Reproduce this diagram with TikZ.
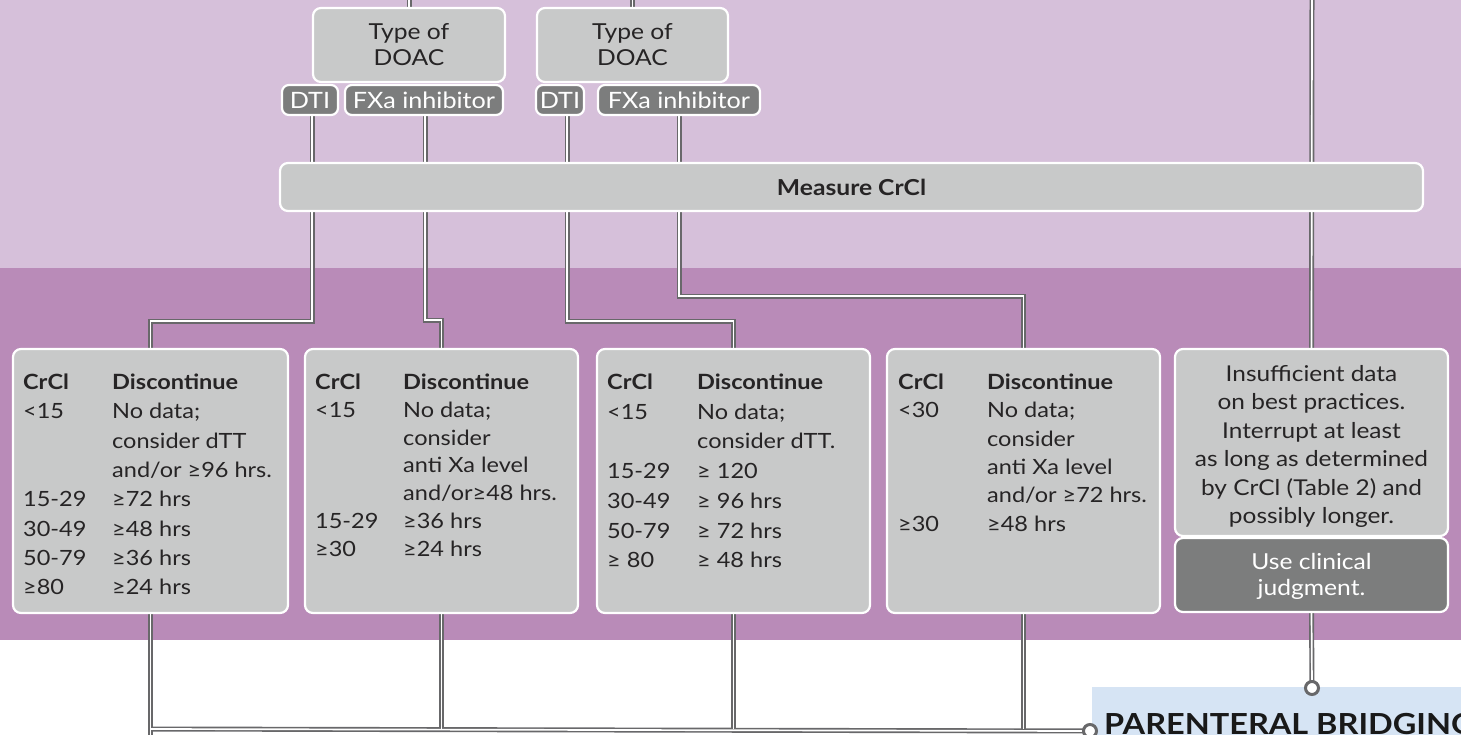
\documentclass[tikz,border=0pt]{standalone}
\usepackage{fontspec}
\setmainfont{Lato}[FakeStretch=1.12]
\usepackage{array}
\usetikzlibrary{calc}
\definecolor{bandA}{HTML}{D6C0DA}
\definecolor{bandB}{HTML}{B98BB8}
\definecolor{boxgray}{HTML}{C8C9C9}
\definecolor{pillgray}{HTML}{7C7D7D}
\definecolor{linegray}{HTML}{68686A}
\definecolor{bluebox}{HTML}{D6E4F4}
\definecolor{ink}{HTML}{262425}
\pgfdeclarelayer{bands}
\pgfdeclarelayer{lines}
\pgfsetlayers{bands,lines,main}
\newcommand\drawconns[1]{%
  \draw[#1] (top1) -- (t1.north);
  \draw[#1] (top2) -- (t2.north);
  \draw[#1] (top3) -- (b5.north);
  \draw[#1] ($(p1.south)+(2,0)$) |- (j1) -- (b1.north);
  \draw[#1] ($(p2.south)+(1,0)$) |- (j2) -- (b2.north);
  \draw[#1] ($(p3.south)+(7,0)$) |- (j3) -- (b3.north);
  \draw[#1] (p4.south) |- (j4) -- (b4.north);
  \draw[#1] (b1.south) -- (bot1);
  \draw[#1] (h1) -- (c1.center);
  \draw[#1] (b2.south) -- (h2);
  \draw[#1] (b3.south) -- (h3);
  \draw[#1] (b4.south) -- (h4);
  \draw[#1] (b6.south) -- (c2.center);
}
\begin{document}
\begin{tikzpicture}[x=1pt,y=-1pt,
  outerline/.style={draw=linegray, line width=5pt},
  innerline/.style={draw=white, line width=1.7pt},
  box/.style={draw=white, line width=2.2pt, fill=boxgray, rounded corners=8pt, inner sep=0pt},
  darkbox/.style={draw=white, line width=2.2pt, fill=pillgray, rounded corners=8pt, inner sep=0pt},
  pill/.style={darkbox, rounded corners=7pt, text=white, font=\fontsize{22.5}{24}\selectfont, minimum height=30pt},
  tab/.style={anchor=base west, inner sep=0pt, text=ink},
  ring/.style={circle, inner sep=0pt, minimum size=13pt, draw=linegray, line width=3pt, fill=white}
]
\useasboundingbox (0,0) rectangle (1461,734);
\begin{pgfonlayer}{bands}
  \fill[bandA] (0,0) rectangle (1461,268);
  \fill[bandB] (0,268) rectangle (1461,640);
  \fill[white] (0,640) rectangle (1461,734);
  \node[fill=bluebox, anchor=north west, minimum width=400pt, minimum height=60pt, inner sep=0pt] (pbbox) at (1092,687) {};
\end{pgfonlayer}

% coordinates for free ends and bends
\coordinate (top1) at (409,-3);
\coordinate (top2) at (632.5,-3);
\coordinate (top3) at (1312,-3);
\coordinate (j1) at (150.5,321);
\coordinate (j2) at (441.5,320);
\coordinate (j3) at (733.5,321);
\coordinate (j4) at (1023.5,296);
\coordinate (bot1) at (150.5,740);
\coordinate (h1) at (150.5,729);
\coordinate (h2) at (441.5,729);
\coordinate (h3) at (733.5,729);
\coordinate (h4) at (1023.5,729);

% Type of DOAC
\node[box, minimum width=192pt, minimum height=74pt, align=center, text=ink,
      font=\fontsize{22}{26}\selectfont] (t1) at (409,45) {Type of\\DOAC};
\node[box, minimum width=191pt, minimum height=74pt, align=center, text=ink,
      font=\fontsize{22}{26}\selectfont] (t2) at (632.5,45) {Type of\\DOAC};
\node[pill, minimum width=56pt] (p1) at (310,100) {DTI};
\node[pill, minimum width=158pt] (p2) at (424,100) {FXa inhibitor};
\node[pill, minimum width=48pt] (p3) at (560,100) {DTI};
\node[pill, minimum width=162pt] (p4) at (679,100) {FXa inhibitor};

% Measure CrCl
\node[box, minimum width=1143pt, minimum height=48pt, text=ink,
      font=\fontsize{22}{26}\selectfont\bfseries] (m) at (851.5,187) {Measure CrCl};

% CrCl boxes
\node[box, minimum width=275pt, minimum height=264pt] (b1) at (150.5,481) {};
\node[box, minimum width=273pt, minimum height=264pt] (b2) at (441.5,481) {};
\node[box, minimum width=273pt, minimum height=264pt] (b3) at (733.5,481) {};
\node[box, minimum width=273pt, minimum height=264pt] (b4) at (1023.5,481) {};
\node[box, minimum width=273pt, minimum height=187pt] (b5) at (1311.5,442.5) {};
\node[darkbox, minimum width=273pt, minimum height=74pt] (b6) at (1311.5,575) {};

\node[tab, font=\fontsize{21}{29.3}\selectfont] (b1t) at (23,389.5) {%
\begin{tabular}[t]{@{}p{89pt}@{}l@{}}
\textbf{CrCl} & \textbf{Discontinue}\\
<15 & No data;\\
 & consider dTT\\
 & and/or ≥96 hrs.\\
15-29 & ≥72 hrs\\
30-49 & ≥48 hrs\\
50-79 & ≥36 hrs\\
≥80 & ≥24 hrs
\end{tabular}};

\node[tab, font=\fontsize{21}{27.8}\selectfont] (b2t) at (315,389.5) {%
\begin{tabular}[t]{@{}p{88pt}@{}l@{}}
\textbf{CrCl} & \textbf{Discontinue}\\
<15 & No data;\\
 & consider\\
 & anti Xa level\\
 & and/or≥48 hrs.\\
15-29 & ≥36 hrs\\
≥30 & ≥24 hrs
\end{tabular}};

\node[tab, font=\fontsize{21}{29.7}\selectfont] (b3t) at (607,389.5) {%
\begin{tabular}[t]{@{}p{90pt}@{}l@{}}
\textbf{CrCl} & \textbf{Discontinue}\\
<15 & No data;\\
 & consider dTT.\\
15-29 & ≥ 120\\
30-49 & ≥ 96 hrs\\
50-79 & ≥ 72 hrs\\
≥ 80 & ≥ 48 hrs
\end{tabular}};

\node[tab, font=\fontsize{21}{28.3}\selectfont] (b4t) at (898,389.5) {%
\begin{tabular}[t]{@{}p{89pt}@{}l@{}}
\textbf{CrCl} & \textbf{Discontinue}\\
<30 & No data;\\
 & consider\\
 & anti Xa level\\
 & and/or ≥72 hrs.\\
≥30 & ≥48 hrs
\end{tabular}};

\node[anchor=base, inner sep=0pt, text=ink, font=\fontsize{21.8}{28.5}\selectfont] (b5t) at (1311.5,381) {%
\begin{tabular}[t]{@{}c@{}}
Insufficient data\\
on best practices.\\
Interrupt at least\\
as long as determined\\
by CrCl (Table 2) and\\
possibly longer.
\end{tabular}};

\node[anchor=base, inner sep=0pt, text=white, font=\fontsize{22}{26}\selectfont] (b6t) at (1311.5,569) {%
\begin{tabular}[t]{@{}c@{}}
Use clinical\\
judgment.
\end{tabular}};

% circles
\node[ring] (c1) at (1090,731) {};
\node[ring] (c2) at (1312,688) {};

% Parenteral bridging
\node[anchor=base west, inner sep=0pt, text=black!90, font=\fontsize{29}{34}\selectfont\bfseries] (pbt) at (1104,734) {PARENTERAL BRIDGING};

\begin{pgfonlayer}{lines}
  \drawconns{outerline}
  \drawconns{innerline}
\end{pgfonlayer}
\end{tikzpicture}
\end{document}
